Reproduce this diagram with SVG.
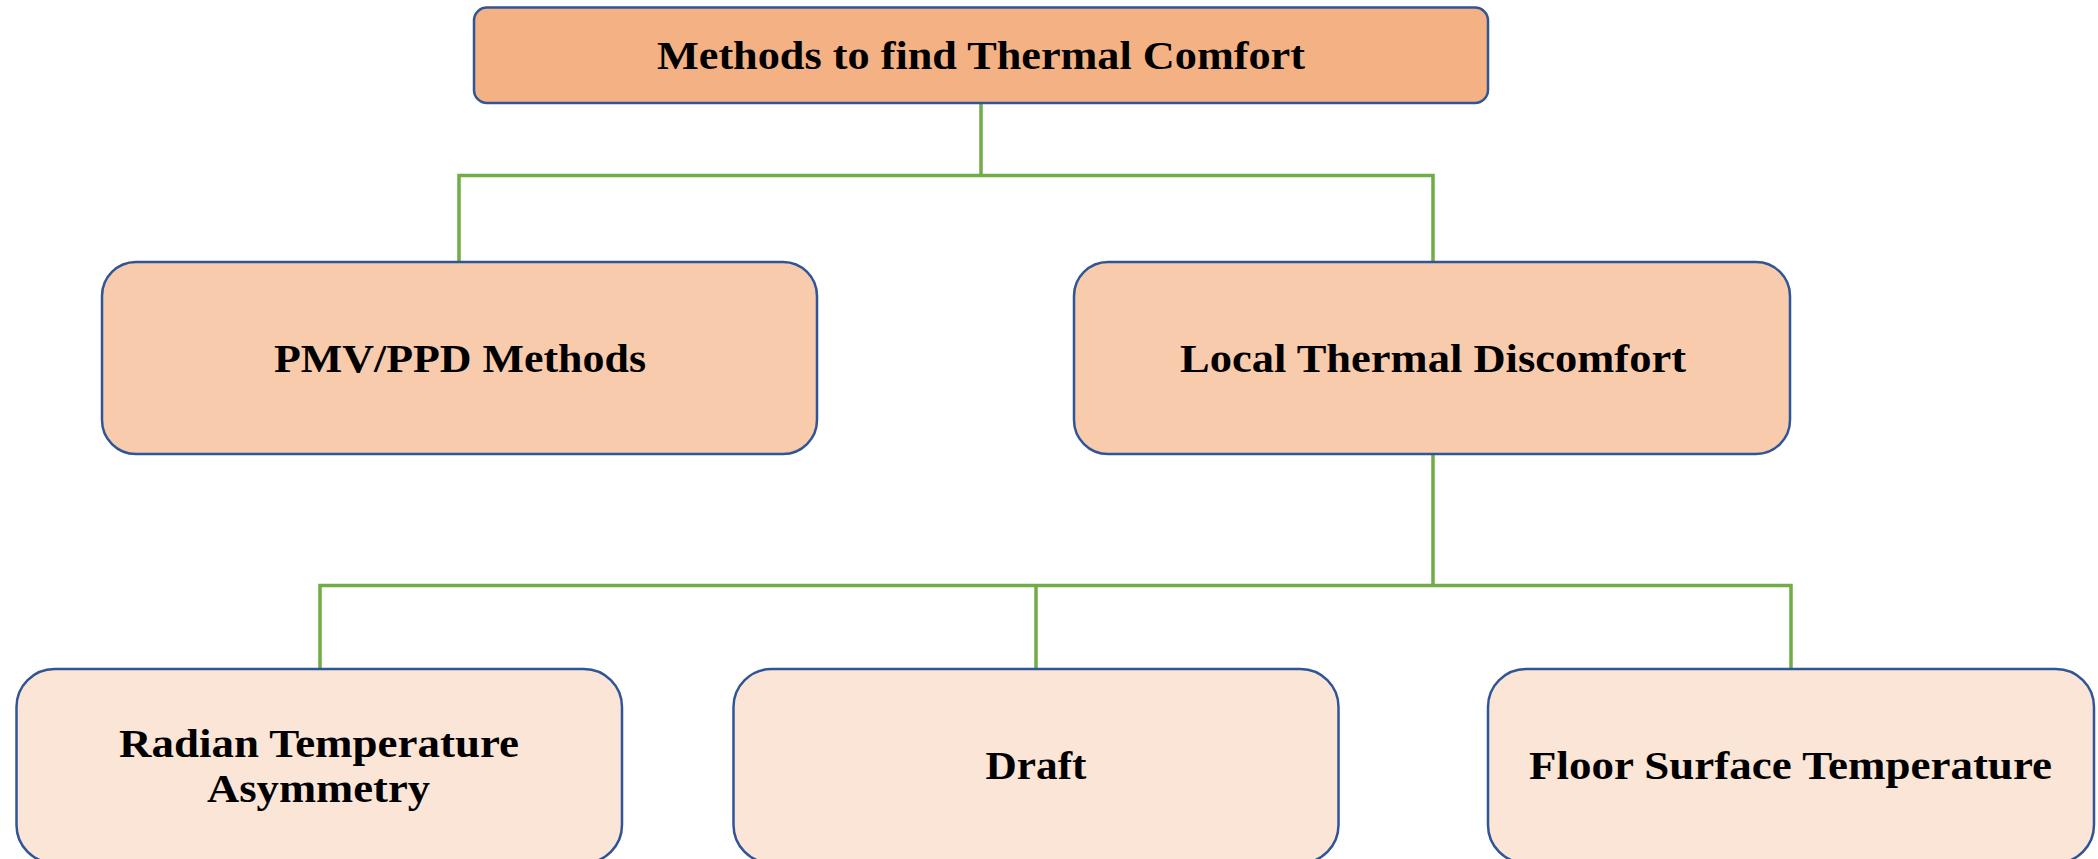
<svg xmlns="http://www.w3.org/2000/svg" width="2098" height="859" viewBox="0 0 2098 859">
<style>
.box{stroke:#2F5597;stroke-width:2.5}
.l0{fill:#F4B183}
.l1{fill:#F8CBAD}
.l2{fill:#FBE5D6}
.t{font-family:"Liberation Serif","Times New Roman",serif;font-weight:bold;font-size:40px;fill:#000;text-anchor:middle}
.c{fill:none;stroke:#70AD47;stroke-width:3.5}
</style>
<rect width="2098" height="859" fill="#fff"/>
<g id="connectors">
<path class="c" d="M981,103 V175.5 M459,262 V175.5 H1433 V262"/>
<path class="c" d="M1433,454 V585.5 M320,669 V585.5 H1791 V669 M1036,585.5 V669"/>
</g>
<g id="n-root">
<rect class="box l0" x="474" y="7.5" width="1014" height="95.5" rx="13"/>
<text class="t" x="981" y="69" textLength="648" lengthAdjust="spacingAndGlyphs">Methods to find Thermal Comfort</text>
</g>
<g id="n-pmv">
<rect class="box l1" x="102" y="262" width="715" height="192" rx="34"/>
<text class="t" x="460" y="372" textLength="372" lengthAdjust="spacingAndGlyphs">PMV/PPD Methods</text>
</g>
<g id="n-local">
<rect class="box l1" x="1074" y="262" width="716" height="192" rx="34"/>
<text class="t" x="1433" y="372" textLength="506" lengthAdjust="spacingAndGlyphs">Local Thermal Discomfort</text>
</g>
<g id="n-radian">
<rect class="box l2" x="16.5" y="669" width="605.5" height="194" rx="38"/>
<text class="t" x="319" y="757" textLength="400" lengthAdjust="spacingAndGlyphs">Radian Temperature</text>
<text class="t" x="318.5" y="802" textLength="223" lengthAdjust="spacingAndGlyphs">Asymmetry</text>
</g>
<g id="n-draft">
<rect class="box l2" x="733.5" y="669" width="605" height="194" rx="38"/>
<text class="t" x="1036" y="779" textLength="101" lengthAdjust="spacingAndGlyphs">Draft</text>
</g>
<g id="n-floor">
<rect class="box l2" x="1488" y="669" width="606" height="194" rx="38"/>
<text class="t" x="1790.5" y="779" textLength="523" lengthAdjust="spacingAndGlyphs">Floor Surface Temperature</text>
</g>
</svg>
